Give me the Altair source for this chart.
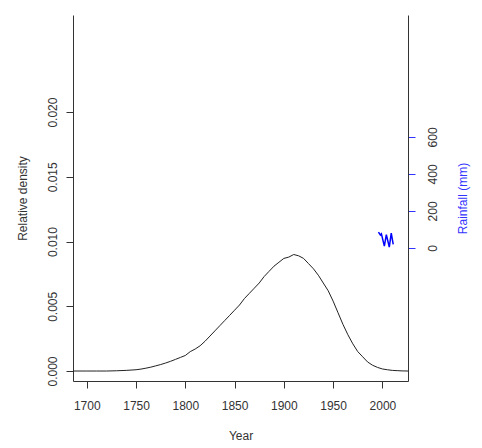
import altair as alt
import pandas as pd

# Density curve
years = [1686, 1700, 1710, 1720, 1730, 1740, 1750, 1755, 1760, 1765, 1770, 1775,
         1780, 1785, 1790, 1795, 1800, 1805, 1810, 1815, 1820, 1825, 1830, 1835,
         1840, 1845, 1850, 1855, 1860, 1865, 1870, 1875, 1880, 1885, 1890, 1895,
         1900, 1905, 1910, 1915, 1920, 1925, 1930, 1935, 1940, 1945, 1950, 1955,
         1960, 1965, 1970, 1975, 1980, 1985, 1990, 1995, 2000, 2005, 2010, 2015,
         2020, 2026]
density = [0.0, 0.0, 0.0, 0.0, 0.00002, 0.00005, 0.0001, 0.00015, 0.00022, 0.0003,
           0.0004, 0.0005, 0.00062, 0.00075, 0.0009, 0.00105, 0.0012, 0.0015,
           0.0017, 0.00195, 0.0023, 0.0027, 0.0031, 0.0035, 0.0039, 0.0043,
           0.0047, 0.0051, 0.0056, 0.006, 0.0064, 0.0068, 0.0073, 0.0077, 0.0081,
           0.0084, 0.0087, 0.0088, 0.0090, 0.0089, 0.0087, 0.0083, 0.0079, 0.0074,
           0.0068, 0.0062, 0.0054, 0.0045, 0.0036, 0.0028, 0.0021, 0.0015, 0.0011,
           0.0007, 0.00045, 0.00028, 0.00016, 0.0001, 0.00005, 0.00003, 0.00001, 0.0]

# Rainfall squiggle
rain_years = [1996, 1998, 1999, 2002, 2004, 2007, 2009, 2011]
rainfall = [86, 70, 76, 10, 72, 5, 80, 20]

x_ticks = [1700, 1750, 1800, 1850, 1900, 1950, 2000]
dens_ticks = [0.0, 0.005, 0.010, 0.015, 0.020]
rain_ticks = [0, 200, 400, 600]

df = pd.DataFrame({"Year": years, "Density": density})
rf = pd.DataFrame({"Year": rain_years, "Rainfall": rainfall})

W, H = 335, 366

x_enc = alt.X(
    "Year:Q",
    scale=alt.Scale(domain=[1686, 2026], nice=False, zero=False),
    axis=alt.Axis(
        values=x_ticks, format="d", title="Year",
        labelBaseline="alphabetic", labelPadding=21,
        titleX=W / 2, titleY=54, titleBaseline="middle", titleAlign="center",
    ),
)

dens = alt.Chart(df).mark_line(color="#222222", strokeWidth=1).encode(
    x=x_enc,
    y=alt.Y(
        "Density:Q",
        scale=alt.Scale(domain=[-0.00077, 0.0275], nice=False, zero=False),
        axis=alt.Axis(
            values=dens_ticks, format=".3f", title="Relative density",
            orient="left", labelAngle=270, labelAlign="center",
            labelBaseline="alphabetic", labelPadding=10,
            titleAngle=270, titleX=-51, titleY=H / 2,
            titleBaseline="middle", titleAlign="center",
        ),
    ),
)

rain = alt.Chart(rf).mark_line(color="#0000ff", strokeWidth=1.5).encode(
    x=x_enc,
    y=alt.Y(
        "Rainfall:Q",
        scale=alt.Scale(domain=[-719, 1259], nice=False, zero=False),
        axis=alt.Axis(
            values=rain_ticks, format="d", title="Rainfall (mm)",
            orient="right", labelAngle=270, labelAlign="center",
            labelBaseline="alphabetic", labelPadding=21,
            tickColor="#3333ff", domainColor="#333333",
            titleColor="#3333ff", labelColor="#333333",
            titleAngle=270, titleX=54, titleY=H / 2,
            titleBaseline="middle", titleAlign="center",
        ),
    ),
)

chart = (
    alt.layer(dens, rain)
    .resolve_scale(y="independent")
    .properties(
        width=W, height=H,
        autosize=alt.AutoSizeParams(type="none"),
        padding={"left": 65, "top": 7, "right": 64, "bottom": 62},
    )
    .configure(font="Liberation Sans")
    .configure_view(stroke=None)
    .configure_axis(
        grid=False, domainColor="#333333", tickColor="#333333",
        tickSize=7, labelFontSize=12, titleFontSize=12,
        labelColor="#333333", titleColor="#333333",
        labelFont="Liberation Sans", titleFont="Liberation Sans",
        titleFontWeight="normal", labelOverlap=False, labelFlush=False,
    )
)

chart.save("out.html", embed_options={"renderer": "svg", "actions": False})
